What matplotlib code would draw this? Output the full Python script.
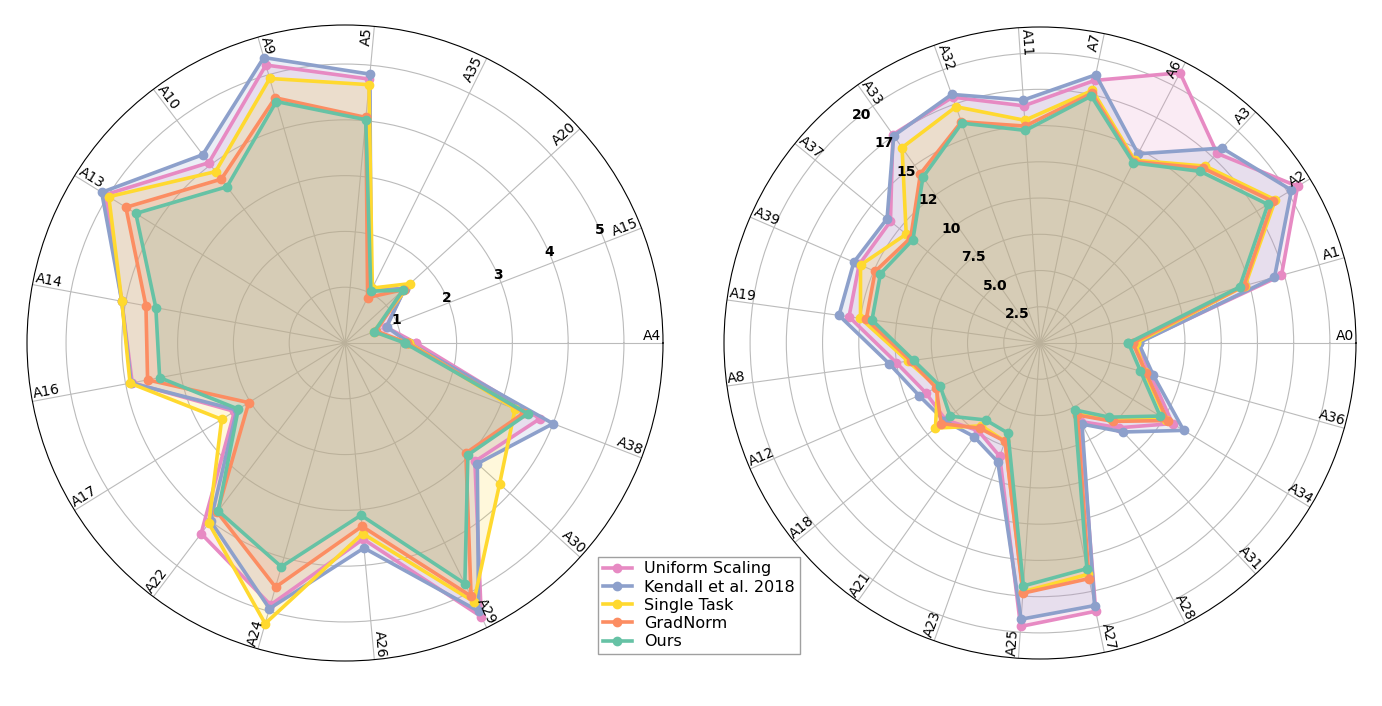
import numpy as np
import matplotlib.pyplot as plt

names = ['Uniform Scaling', 'Kendall et al. 2018', 'Single Task', 'GradNorm', 'Ours']
colors = ['#e78ac3', '#8da0cb', '#ffd92f', '#fc8d62', '#66c2a5']

# left chart
left_cats = ['A4', 'A15', 'A20', 'A35', 'A5', 'A9', 'A10', 'A13', 'A14', 'A16', 'A17',
             'A22', 'A24', 'A26', 'A29', 'A30', 'A38']
left_uniform = [1.27, 0.79, 1.45, 1.05, 4.75, 5.18, 4.05, 5.05, 4.07, 3.88, 2.33, 4.28, 4.88, 3.53, 5.48, 3.15, 3.75]
left_kendall = [1.15, 0.80, 1.45, 1.05, 4.84, 5.32, 4.23, 5.13, 4.07, 3.90, 2.28, 4.00, 4.95, 3.69, 5.37, 3.21, 4.00]
left_single  = [1.15, 0.55, 1.58, 1.10, 4.65, 4.93, 3.85, 4.98, 4.07, 3.92, 2.60, 4.05, 5.23, 3.43, 5.18, 3.75, 3.27]
left_gradnorm = [1.12, 0.60, 1.42, 0.91, 4.06, 4.57, 3.68, 4.62, 3.63, 3.60, 2.03, 3.80, 4.55, 3.30, 5.07, 2.93, 3.45]
left_ours    = [1.07, 0.56, 1.40, 1.04, 4.02, 4.50, 3.51, 4.41, 3.45, 3.38, 2.25, 3.77, 4.17, 3.10, 4.82, 2.98, 3.51]

# right chart
right_cats = ['A0', 'A1', 'A2', 'A3', 'A6', 'A7', 'A11', 'A32', 'A33', 'A37', 'A39', 'A19',
              'A8', 'A12', 'A18', 'A21', 'A23', 'A25', 'A27', 'A28', 'A31', 'A34', 'A36']
right_uniform = [6.7, 17.3, 20.8, 17.9, 21.0, 18.5, 16.4, 18.0, 17.6, 13.3, 13.6, 13.3,
                 10.0, 8.6, 8.4, 7.4, 8.3, 19.6, 18.9, 6.1, 8.0, 10.7, 7.9]
right_kendall = [6.8, 16.8, 20.3, 18.4, 14.7, 18.9, 16.8, 18.2, 17.5, 13.6, 14.0, 14.0,
                 10.5, 9.1, 8.5, 7.9, 8.7, 19.1, 18.5, 6.3, 8.4, 11.6, 8.1]
right_single = [6.6, 14.7, 19.0, 16.7, 14.2, 17.8, 15.4, 17.3, 16.5, 11.9, 13.5, 12.5,
                9.2, 7.7, 9.3, 7.0, 7.2, 17.2, 16.3, 5.5, 7.2, 10.2, 7.5]
right_gradnorm = [6.4, 14.6, 18.8, 16.5, 14.1, 17.6, 15.0, 16.2, 14.3, 11.5, 12.4, 12.1,
                  9.0, 7.8, 8.8, 7.2, 7.2, 17.3, 16.6, 5.6, 7.4, 10.3, 7.6]
right_ours = [6.1, 14.3, 18.4, 16.2, 14.0, 17.4, 14.7, 16.1, 14.0, 11.3, 12.0, 11.7,
              8.8, 7.5, 8.0, 6.5, 6.6, 16.8, 15.9, 5.2, 7.0, 9.7, 7.2]

left_ticks = [1, 2, 3, 4, 5]
left_ticklabels = ['1', '2', '3', '4', '5']
right_ticks = [2.5, 5, 7.5, 10, 12.5, 15, 17.5, 20]
right_ticklabels = ['2.5', '5.0', '7.5', '10', '12', '15', '17', '20']


def radar(ax, cats, series, rmax, ticks, ticklabels, label_angle):
    n = len(cats)
    ang = np.arange(n) * 2 * np.pi / n
    ang_c = np.append(ang, ang[0])
    for vals, c, nm in zip(series, colors, names):
        v = np.append(vals, vals[0])
        ax.fill(ang_c, v, color=c, alpha=0.17, zorder=2)
        ax.plot(ang_c, v, color=c, lw=2.6, marker='o', ms=6, label=nm, zorder=3)
    ax.set_ylim(0, rmax)
    ax.set_xticks(ang)
    ax.set_xticklabels([])
    ax.set_yticks(ticks)
    ax.set_yticklabels([])
    ax.grid(color='#bbbbbb', lw=0.8)
    ax.spines['polar'].set_linewidth(0.8)
    la = np.radians(label_angle)
    for t, lab in zip(ticks, ticklabels):
        ax.text(la, t, lab, ha='center', va='center', fontsize=10,
                fontweight='bold', zorder=6)
    for a, cat in zip(ang, cats):
        deg = np.degrees(a)
        if not (90 < deg < 270):
            rot, ha = deg, 'right'
        else:
            rot, ha = deg - 180, 'left'
        ax.text(a, rmax * 0.995, cat, rotation=rot, rotation_mode='anchor',
                ha=ha, va='bottom', fontsize=10, zorder=6)


fig = plt.figure(figsize=(13.82, 7.06), dpi=100)
ax1 = fig.add_axes([27 / 1382, 45 / 706, 636 / 1382, 636 / 706], projection='polar')
ax2 = fig.add_axes([724 / 1382, 47 / 706, 632 / 1382, 632 / 706], projection='polar')

radar(ax1, left_cats, [left_uniform, left_kendall, left_single, left_gradnorm, left_ours],
      5.7, left_ticks, left_ticklabels, 24)
radar(ax2, right_cats, [right_uniform, right_kendall, right_single, right_gradnorm, right_ours],
      21.8, right_ticks, right_ticklabels, 128)

h, l = ax1.get_legend_handles_labels()
fig.legend(h, l, loc='lower left', bbox_to_anchor=(590 / 1382, 44 / 706), fontsize=11.5,
           frameon=True, fancybox=False, edgecolor='#888888', borderpad=0.3,
           handlelength=1.8, labelspacing=0.2)

fig.savefig('out.png', dpi=100)
